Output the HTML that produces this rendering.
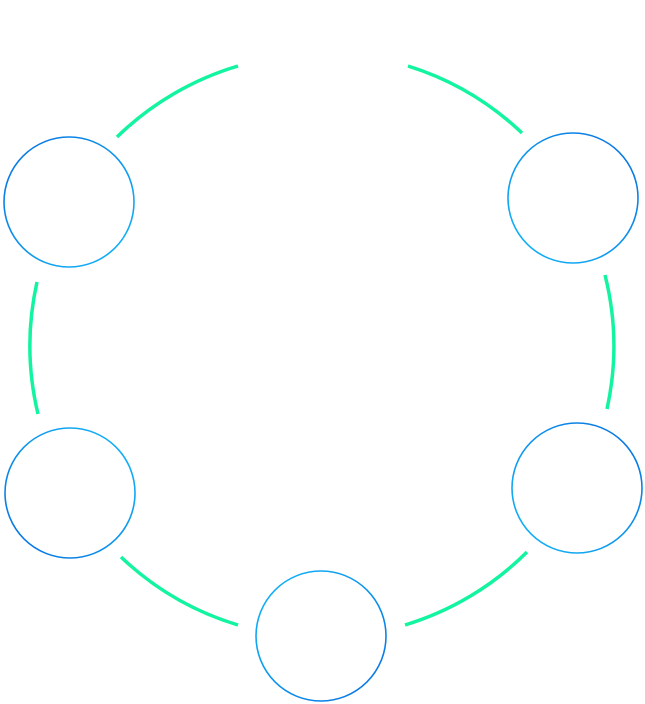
<!DOCTYPE html>
<html><head><style>html,body{margin:0;padding:0;background:#fff;}svg{display:block}</style></head>
<body>
<svg width="645" height="704" viewBox="0 0 645 704" xmlns="http://www.w3.org/2000/svg">
<defs>
<linearGradient id="g1" x1="0" y1="0" x2="1" y2="1"><stop offset="0" stop-color="#0870e0"/><stop offset="1" stop-color="#14b8f8"/></linearGradient>
<linearGradient id="g2" x1="1" y1="0" x2="0" y2="1"><stop offset="0" stop-color="#0870e0"/><stop offset="1" stop-color="#14b8f8"/></linearGradient>
<linearGradient id="g3" x1="1" y1="0" x2="0" y2="1"><stop offset="0" stop-color="#14b8f8"/><stop offset="1" stop-color="#0870e0"/></linearGradient>
<linearGradient id="g4" x1="1" y1="0" x2="0" y2="1"><stop offset="0" stop-color="#0870e0"/><stop offset="1" stop-color="#14b8f8"/></linearGradient>
<linearGradient id="g5" x1="0" y1="0" x2="1" y2="1"><stop offset="0" stop-color="#14b8f8"/><stop offset="1" stop-color="#0870e0"/></linearGradient>
</defs>
<g fill="none" stroke="#12f4a0" stroke-width="3.5">
<path d="M117,137 A292,292 0 0 1 238,66"/>
<path d="M408,66 A292,292 0 0 1 522,133"/>
<path d="M605,275 A292,292 0 0 1 607,409"/>
<path d="M527,552 A292,292 0 0 1 405,625"/>
<path d="M238,625 A292,292 0 0 1 121,557"/>
<path d="M38,414 A292,292 0 0 1 37,282"/>
</g>
<g fill="none" stroke-width="1.6">
<circle cx="69" cy="202" r="65" stroke="url(#g1)"/>
<circle cx="573" cy="198" r="65" stroke="url(#g2)"/>
<circle cx="70" cy="493" r="65" stroke="url(#g3)"/>
<circle cx="577" cy="488" r="65" stroke="url(#g4)"/>
<circle cx="321" cy="636" r="65" stroke="url(#g5)"/>
</g>
</svg>
</body></html>
